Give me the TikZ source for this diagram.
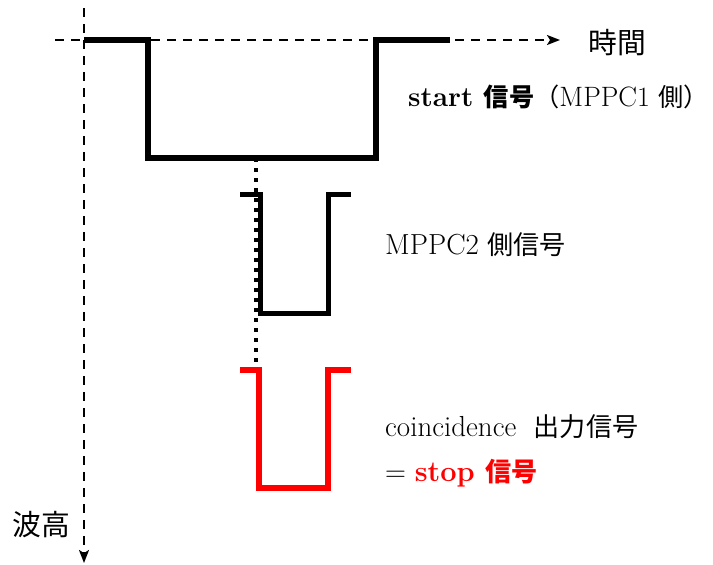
\documentclass[tikz,border=0pt]{standalone}
\usepackage{fontspec}
\newfontfamily\jp{Noto Sans CJK JP}[Scale=0.9]
\usetikzlibrary{arrows.meta}
\begin{document}
\begin{tikzpicture}[x=1pt,y=-1pt,
  axis/.style={line width=2pt, dash pattern=on 9pt off 7pt, -{Stealth[length=13pt,width=10pt,inset=3pt]}},
  sig/.style={line width=6pt, line join=miter},
  sigthin/.style={line width=5pt, line join=miter},
  dotline/.style={line width=4pt, dash pattern=on 4pt off 6pt},
  lbl/.style={anchor=west, inner sep=0pt, font=\fontsize{29}{33}\selectfont},
  axlbl/.style={anchor=west, inner sep=0pt, font=\fontsize{32}{36}\selectfont\jp}]
\useasboundingbox (0,0) rectangle (713,565);
% axes
\coordinate (xs) at (55,40);
\coordinate (xe) at (560,40);
\coordinate (ys) at (84,8);
\coordinate (ye) at (84,563);
\draw[axis] (xs) -- (xe);
\draw[axis] (ys) -- (ye);
% dotted guide
\coordinate (d1) at (256,158);
\coordinate (d2) at (256,372);
\draw[dotline] (d1) -- (d2);
% start signal
\draw[sig] (84,40) -- (148,40) -- (148,158) -- (376,158) -- (376,40) -- (450,40);
% MPPC2 signal
\draw[sigthin] (240,194) -- (260,194) -- (260,313) -- (328,313) -- (328,194) -- (351,194);
% coincidence signal
\draw[sig, red] (240,370) -- (259,370) -- (259,488) -- (328,488) -- (328,370) -- (351,370);
% labels
\node[axlbl] (tlab) at (588,43) {時間};
\node[axlbl] (hlab) at (12,525) {波高};
\node[lbl, font=\fontsize{28}{32}\selectfont] (slab) at (408,97) {\textbf{start {\jp 信号}}{\jp （}MPPC1 {\jp 側）}};
\node[lbl] (mlab) at (385,245) {MPPC2 {\jp 側信号}};
\node[lbl] (clab) at (385,427) {coincidence\ \ {\jp 出力信号}};
\node[lbl] (eqlab) at (385,473) {= \textcolor{red}{\textbf{stop {\jp 信号}}}};
\end{tikzpicture}
\end{document}
